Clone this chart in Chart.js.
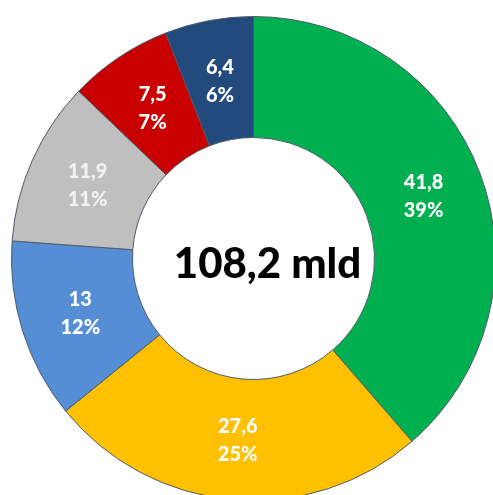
<!DOCTYPE html>
<html>
<head>
<meta charset="utf-8">
<script src="https://cdn.jsdelivr.net/npm/chart.js@4/dist/chart.umd.min.js"></script>
<style>
  html, body { margin: 0; padding: 0; background: #fff; overflow: hidden; }
  body { width: 493px; height: 495px; position: relative; }
  #wrap { position: absolute; left: 11px; top: 16px; width: 485px; height: 485px; }
</style>
</head>
<body>
<div id="wrap"><canvas id="grafico"></canvas></div>
<script>
  // dane
  const kategorie = ["A", "B", "C", "D", "E", "F"];
  const wartosci = [41.8, 27.6, 13, 11.9, 7.5, 6.4];
  const wartosciTekst = ["41,8", "27,6", "13", "11,9", "7,5", "6,4"];
  const procenty = ["39%", "25%", "12%", "11%", "7%", "6%"];
  const srodekTekst = "108,2 mld";

  const kolory = ["#00B050", "#FFC000", "#558ED5", "#BFBFBF", "#C80000", "#234A7C"];
  const koloryEtykiet = ["#fff", "#fff", "#fff", "#f2f2f2", "#fff", "#fff"];

  const etykiety = {
    id: "etykiety",
    afterDatasetsDraw(chart) {
      const ctx = chart.ctx;
      const meta = chart.getDatasetMeta(0);
      ctx.save();
      ctx.textAlign = "center";
      ctx.textBaseline = "middle";
      ctx.font = "900 20px Lato";
      meta.data.forEach((arc, i) => {
        const p = arc.tooltipPosition();
        ctx.fillStyle = koloryEtykiet[i];
        ctx.fillText(wartosciTekst[i], p.x, p.y - 13);
        ctx.fillText(procenty[i], p.x, p.y + 15);
      });
      // tekst w srodku
      const a = meta.data[0];
      ctx.fillStyle = "#000";
      ctx.font = "900 42px Lato";
      ctx.fillText(srodekTekst, a.x + 14, a.y + 6);
      ctx.restore();
    },
  };

  new Chart(document.getElementById("grafico"), {
    type: "doughnut",
    data: {
      labels: kategorie,
      datasets: [
        {
          data: wartosci,
          backgroundColor: kolory,
          borderColor: "#4d5b6b",
          borderWidth: 1,
          hoverOffset: 0,
        },
      ],
    },
    options: {
      responsive: true,
      maintainAspectRatio: false,
      animation: false,
      cutout: "50%",
      layout: { padding: 0 },
      plugins: {
        legend: { display: false },
        tooltip: { enabled: false },
      },
    },
    plugins: [etykiety],
  });
</script>
</body>
</html>
